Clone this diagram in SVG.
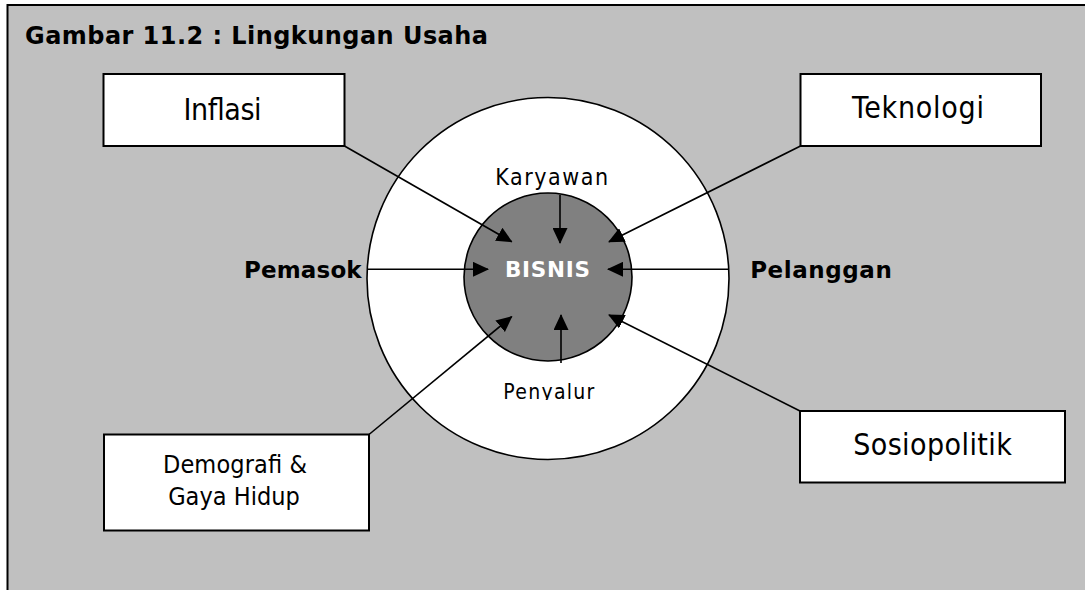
<svg xmlns="http://www.w3.org/2000/svg" width="1085" height="590" viewBox="0 0 1085 590">
<style>
.box{fill:#fff;stroke:#000;stroke-width:2}
.t{font-family:"DejaVu Sans Condensed","DejaVu Sans",sans-serif;fill:#000;text-anchor:middle}
.b{font-family:"DejaVu Sans","Liberation Sans",sans-serif;font-weight:bold;fill:#000;text-anchor:middle}
.c{stroke:#000;stroke-width:1.6;fill:none;marker-end:url(#ah)}
</style>
<defs>
<marker id="ah" markerUnits="userSpaceOnUse" markerWidth="16" markerHeight="15" viewBox="0 0 16 15" refX="15" refY="7.5" orient="auto">
<path d="M0,0 L16,7.5 L0,15 z" fill="#000"/>
</marker>
<clipPath id="clipPen"><rect x="480" y="370" width="140" height="30"/></clipPath>
</defs>
<rect x="0" y="0" width="1085" height="590" fill="#fff"/>
<rect id="frame" x="7.5" y="5" width="1100" height="600" fill="#c0c0c0" stroke="#000" stroke-width="2"/>
<g id="title"><text x="25" y="43.5" font-family="DejaVu Sans, sans-serif" font-weight="bold" font-size="24" textLength="463">Gambar 11.2 :  Lingkungan Usaha</text></g>
<g id="lingkungan"><circle cx="548" cy="278.5" r="181" fill="#fff" stroke="#000" stroke-width="1.6"/></g>
<g id="bisnis"><circle cx="548" cy="277" r="84" fill="#808080" stroke="#000" stroke-width="1.6"/>
<text class="b" x="547.5" y="277.3" font-size="21.5" style="fill:#fff" textLength="85">BISNIS</text></g>
<g id="inflasi"><rect class="box" x="103.5" y="74" width="241" height="72"/><text class="t" x="222.5" y="120" font-size="30" textLength="78">Inflasi</text></g>
<g id="teknologi"><rect class="box" x="800.5" y="74" width="240.5" height="72"/><text class="t" x="918" y="118.3" font-size="30" textLength="132">Teknologi</text></g>
<g id="sosiopolitik"><rect class="box" x="800" y="411" width="265" height="71.5"/><text class="t" x="932.5" y="455" font-size="30" textLength="158.7">Sosiopolitik</text></g>
<g id="demografi"><rect class="box" x="104" y="434.5" width="265" height="96"/><text class="t" x="235" y="473.3" font-size="25" textLength="144">Demografi &amp;</text><text class="t" x="234" y="505" font-size="25" textLength="131.7">Gaya Hidup</text></g>
<g id="connectors">
<line class="c" x1="368" y1="269.3" x2="488" y2="269.3"/>
<line class="c" x1="728" y1="269.3" x2="608" y2="269.3"/>
<line class="c" x1="560" y1="195" x2="560" y2="243"/>
<line class="c" x1="561" y1="363" x2="561" y2="315"/>
<line class="c" x1="344.5" y1="146" x2="511.7" y2="241.7"/>
<line class="c" x1="800.5" y1="146" x2="609" y2="241.7"/>
<line class="c" x1="800" y1="411" x2="609" y2="315"/>
<line class="c" x1="369" y1="434.5" x2="511.7" y2="316.7"/>
</g>
<g id="karyawan"><text class="t" x="551.7" y="185" font-size="23" textLength="113">Karyawan</text></g>
<g id="penyalur"><text class="t" x="548.8" y="399.3" font-size="21" textLength="91" clip-path="url(#clipPen)">Penyalur</text></g>
<g id="pemasok"><text class="b" x="302.8" y="278.3" font-size="23" textLength="117.7">Pemasok</text></g>
<g id="pelanggan"><text class="b" x="821" y="278.3" font-size="23" textLength="141.7">Pelanggan</text></g>
</svg>
